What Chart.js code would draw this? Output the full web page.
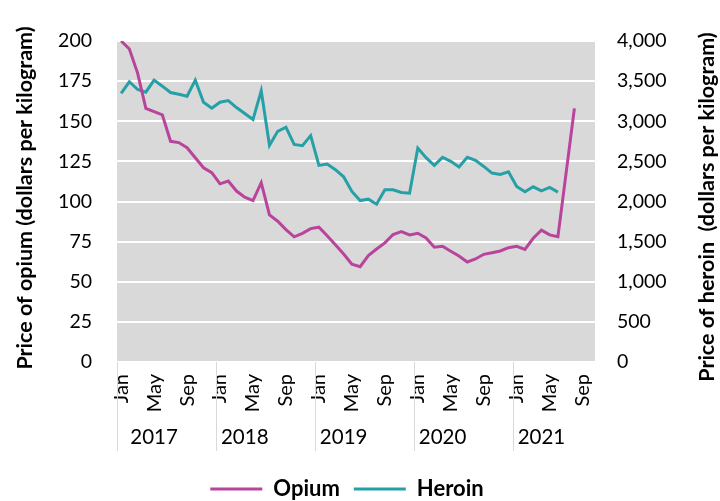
<!DOCTYPE html>
<html>
<head>
<meta charset="utf-8">
<script src="https://cdn.jsdelivr.net/npm/chart.js@4/dist/chart.umd.min.js"></script>
<style>
  html, body { margin: 0; padding: 0; background: #fff; }
  #wrap { width: 720px; height: 501px; position: relative; }
</style>
</head>
<body>
<div id="wrap"><canvas id="chart" width="720" height="501"></canvas></div>
<script>
const monthNames = ['Jan', 'Feb', 'Mar', 'Apr', 'May', 'Jun', 'Jul', 'Aug', 'Sep', 'Oct', 'Nov', 'Dec'];
const years = ['2017', '2018', '2019', '2020', '2021'];
const shownMonths = ['Jan', 'May', 'Sep'];
const monthCount = 58; // Jan 2017 .. Oct 2021

// dollars per kilogram
const opium = [
    200, 195, 180, 158, 156, 154, 137.5, 136.7, 133.5, 127.3,
    121, 118, 111, 112.7, 106.5, 102.7, 100.6, 111.7, 91.7, 87.7,
    82.5, 78, 80.2, 83.1, 84, 78.7, 73, 67.3, 61, 59.4,
    66.3, 70.4, 74.2, 79.4, 81.2, 79.2, 80.2, 77.3, 71.5, 72.1,
    69, 66, 62.3, 64.2, 67.1, 68.1, 69.2, 71.2, 72.1, 70.2,
    77.1, 82.1, 79.2, 78.1, 118, 158
];
const heroin = [
    3346, 3492, 3396, 3362, 3512, 3437, 3358, 3337, 3312, 3512,
    3237, 3162, 3237, 3258, 3171, 3096, 3021, 3379, 2700, 2875,
    2925, 2712, 2696, 2821, 2450, 2466, 2396, 2308, 2125, 2012,
    2029, 1966, 2146, 2146, 2112, 2104, 2666, 2546, 2450, 2550,
    2500, 2429, 2550, 2512, 2437, 2354, 2337, 2371, 2187, 2121,
    2183, 2133, 2175, 2117
];

const labels = [];
for (let i = 0; i < monthCount; i++) {
    labels.push(monthNames[i % 12] + ' ' + years[Math.floor(i / 12)]);
}

const FONT = 'Lato';

// grey plot background, year row, separators and both axis titles
const decorPlugin = {
    id: 'decor',
    afterLayout(chart) {
        // nudge the legend to where the original has it
        const lg = chart.legend;
        const dy = 489 - (lg.top + 14 + 11);
        lg.top += dy; lg.bottom += dy;
        lg.left -= 13; lg.right -= 13;
    },
    beforeDraw(chart) {
        const { ctx, chartArea: a } = chart;
        ctx.save();
        ctx.fillStyle = '#d9d9d9';
        ctx.fillRect(a.left, a.top, a.right - a.left, a.bottom - a.top);
        ctx.restore();
    },
    afterDraw(chart) {
        const { ctx, chartArea: a } = chart;
        const x = chart.scales.x;
        const step = x.getPixelForValue(1) - x.getPixelForValue(0);
        ctx.save();
        ctx.strokeStyle = '#d9d9d9';
        ctx.lineWidth = 1;
        ctx.fillStyle = '#000';
        ctx.font = '20.5px ' + FONT;
        ctx.textAlign = 'center';
        ctx.textBaseline = 'middle';
        years.forEach((y, k) => {
            const bx = Math.round(x.getPixelForValue(k * 12) - step / 2) + 0.5;
            ctx.beginPath();
            ctx.moveTo(bx, a.bottom);
            ctx.lineTo(bx, 451);
            ctx.stroke();
            const mid = k === 0 ? 4.5 : 3.5;
            ctx.fillText(y, x.getPixelForValue(k * 12 + mid) - step / 2, 437);
        });

        ctx.font = 'bold 21.5px ' + FONT;
        ctx.translate(25, 198);
        ctx.rotate(-Math.PI / 2);
        ctx.fillText('Price of opium (dollars per kilogram)', 0, 0);
        ctx.restore();

        ctx.save();
        ctx.fillStyle = '#000';
        ctx.font = 'bold 21.5px ' + FONT;
        ctx.textAlign = 'center';
        ctx.textBaseline = 'middle';
        ctx.translate(707, 207);
        ctx.rotate(-Math.PI / 2);
        ctx.fillText('Price of heroin  (dollars per kilogram)', 0, 0);
        ctx.restore();
    }
};

new Chart(document.getElementById('chart'), {
    type: 'line',
    data: {
        labels: labels,
        datasets: [
            {
                label: 'Opium',
                data: opium,
                yAxisID: 'y',
                borderColor: '#b8449c',
                backgroundColor: '#b8449c',
                borderWidth: 3,
                pointRadius: 0,
                tension: 0
            },
            {
                label: 'Heroin',
                data: heroin,
                yAxisID: 'y1',
                borderColor: '#26a0a6',
                backgroundColor: '#26a0a6',
                borderWidth: 3,
                pointRadius: 0,
                tension: 0
            }
        ]
    },
    options: {
        responsive: false,
        animation: false,
        layout: { padding: 0 },
        plugins: {
            tooltip: { enabled: false },
            // empty title only reserves the space above the plot
            title: {
                display: true,
                text: '',
                font: { size: 1, lineHeight: 1 },
                padding: { top: 40, bottom: 0 }
            },
            legend: {
                position: 'bottom',
                labels: {
                    usePointStyle: true,
                    pointStyle: 'line',
                    pointStyleWidth: 52,
                    color: '#000',
                    padding: 14,
                    font: { family: FONT, size: 22, weight: 'bold' }
                }
            }
        },
        scales: {
            x: {
                type: 'category',
                offset: true,
                grid: { display: false },
                border: { display: false },
                ticks: {
                    autoSkip: false,
                    maxRotation: 90,
                    minRotation: 90,
                    padding: 4,
                    color: '#000',
                    font: { family: FONT, size: 20 },
                    callback: function (v, i) {
                        const m = monthNames[i % 12];
                        return shownMonths.includes(m) ? m : '';
                    }
                },
                afterFit(scale) { scale.height = 93; }
            },
            y: {
                position: 'left',
                min: 0,
                max: 200,
                grid: { color: '#ffffff', lineWidth: 2, drawTicks: false },
                border: { display: false },
                ticks: {
                    stepSize: 25,
                    padding: 25,
                    color: '#000',
                    font: { family: FONT, size: 19.5 }
                },
                afterFit(scale) { scale.width = 117; }
            },
            y1: {
                position: 'right',
                min: 0,
                max: 4000,
                grid: { display: false, drawTicks: false },
                border: { display: false },
                ticks: {
                    stepSize: 500,
                    padding: 22,
                    color: '#000',
                    font: { family: FONT, size: 19.5 },
                    callback: v => v.toLocaleString('en-US')
                },
                afterFit(scale) { scale.width = 125; }
            }
        }
    },
    plugins: [decorPlugin]
});
</script>
</body>
</html>
